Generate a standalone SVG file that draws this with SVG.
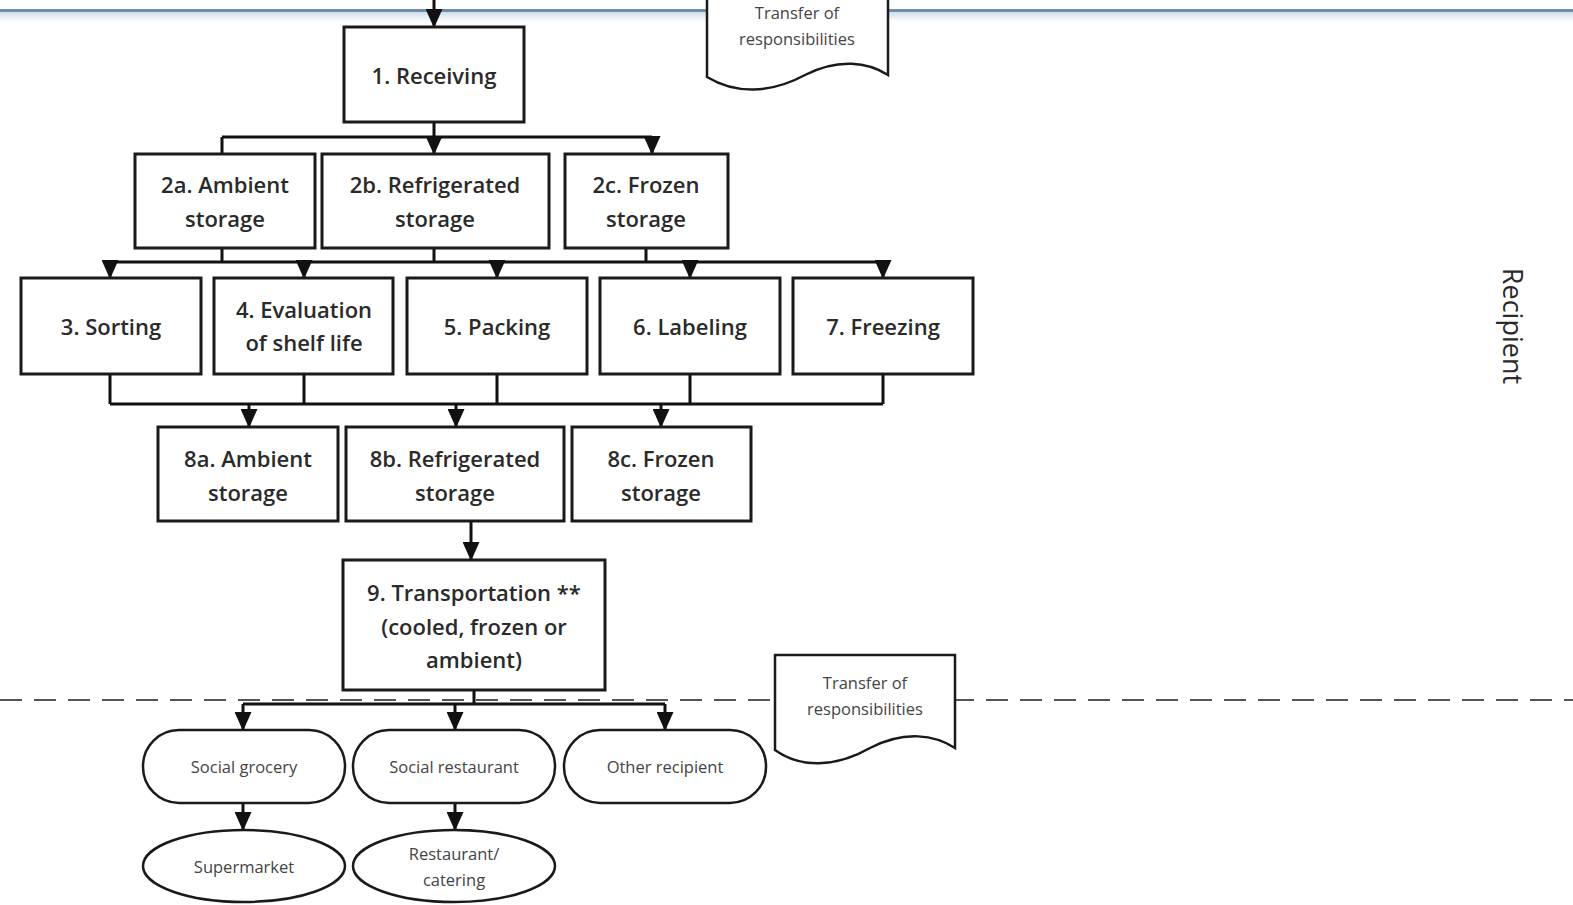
<svg xmlns="http://www.w3.org/2000/svg" width="1573" height="905" viewBox="0 0 1573 905">
<style>
.box{fill:#fff;stroke:#1a1a1a;stroke-width:3}
.term{fill:#fff;stroke:#1a1a1a;stroke-width:2.5}
.doc{fill:#fff;stroke:#1a1a1a;stroke-width:2.5}
.c{fill:none;stroke:#111;stroke-width:3}
.ca{fill:none;stroke:#111;stroke-width:3;marker-end:url(#ah)}
.t{font-family:"Open Sans","Liberation Sans",sans-serif;font-size:22px;font-weight:600;fill:#2a2a2a;text-anchor:middle;dominant-baseline:central}
.s{font-family:"Open Sans","Liberation Sans",sans-serif;font-size:16.5px;fill:#444;text-anchor:middle;dominant-baseline:central}
</style>
<defs>
<marker id="ah" markerUnits="userSpaceOnUse" markerWidth="19" markerHeight="17" viewBox="0 0 19 17" refX="18" refY="8.5" orient="auto">
<path d="M0,0 L19,8.5 L0,17 z" fill="#111"/>
</marker>
<linearGradient id="bar" x1="0" y1="0" x2="0" y2="1">
<stop offset="0" stop-color="#cfdeec"/>
<stop offset="1" stop-color="#ffffff"/>
</linearGradient>
</defs>
<rect width="1573" height="905" fill="#fff"/>
<g id="band">
<rect x="0" y="12" width="1573" height="10" fill="url(#bar)"/>
<rect x="0" y="9" width="1573" height="3" fill="#6f8eab"/>
</g>
<g id="divider">
<line x1="0" y1="700" x2="1573" y2="700" stroke="#555" stroke-width="2" stroke-dasharray="22 12"/>
</g>
<g id="connectors">
<path class="ca" d="M434,0 V27"/>
<path class="c" d="M434,122 V137 M222,137 H652 M222,137 V154"/>
<path class="ca" d="M434,137 V154"/>
<path class="ca" d="M652,137 V154"/>
<path class="c" d="M222,248 V262 M434,248 V262 M646,248 V262 M110,262 H883"/>
<path class="ca" d="M110,262 V278"/>
<path class="ca" d="M304,262 V278"/>
<path class="ca" d="M497,262 V278"/>
<path class="ca" d="M690,262 V278"/>
<path class="ca" d="M883,262 V278"/>
<path class="c" d="M110,374 V404 M304,374 V404 M497,374 V404 M690,374 V404 M883,374 V404 M110,404 H883"/>
<path class="ca" d="M249,404 V427"/>
<path class="ca" d="M456,404 V427"/>
<path class="ca" d="M661,404 V427"/>
<path class="ca" d="M471,521 V560"/>
<path class="c" d="M474,690 V704 M243,704 H665"/>
<path class="ca" d="M243,704 V730"/>
<path class="ca" d="M455,704 V730"/>
<path class="ca" d="M665,704 V730"/>
<path class="ca" d="M243,803 V830"/>
<path class="ca" d="M455,803 V830"/>
</g>
<g id="n1"><rect class="box" x="344" y="27" width="180" height="95"/><text class="t" x="434" y="75">1. Receiving</text></g>
<g id="n2a"><rect class="box" x="135" y="154" width="180" height="94"/><text class="t" x="225" y="184">2a. Ambient</text><text class="t" x="225" y="218">storage</text></g>
<g id="n2b"><rect class="box" x="322" y="154" width="227" height="94"/><text class="t" x="435" y="184">2b. Refrigerated</text><text class="t" x="435" y="218">storage</text></g>
<g id="n2c"><rect class="box" x="565" y="154" width="163" height="94"/><text class="t" x="646" y="184">2c. Frozen</text><text class="t" x="646" y="218">storage</text></g>
<g id="n3"><rect class="box" x="21" y="278" width="180" height="96"/><text class="t" x="111" y="326">3. Sorting</text></g>
<g id="n4"><rect class="box" x="214" y="278" width="179" height="96"/><text class="t" x="304" y="309">4. Evaluation</text><text class="t" x="304" y="342">of shelf life</text></g>
<g id="n5"><rect class="box" x="407" y="278" width="180" height="96"/><text class="t" x="497" y="326">5. Packing</text></g>
<g id="n6"><rect class="box" x="600" y="278" width="180" height="96"/><text class="t" x="690" y="326">6. Labeling</text></g>
<g id="n7"><rect class="box" x="793" y="278" width="180" height="96"/><text class="t" x="883" y="326">7. Freezing</text></g>
<g id="n8a"><rect class="box" x="158" y="427" width="180" height="94"/><text class="t" x="248" y="458">8a. Ambient</text><text class="t" x="248" y="492">storage</text></g>
<g id="n8b"><rect class="box" x="346" y="427" width="218" height="94"/><text class="t" x="455" y="458">8b. Refrigerated</text><text class="t" x="455" y="492">storage</text></g>
<g id="n8c"><rect class="box" x="572" y="427" width="179" height="94"/><text class="t" x="661" y="458">8c. Frozen</text><text class="t" x="661" y="492">storage</text></g>
<g id="n9"><rect class="box" x="343" y="560" width="262" height="130"/><text class="t" x="474" y="592">9. Transportation **</text><text class="t" x="474" y="626">(cooled, frozen or</text><text class="t" x="474" y="659">ambient)</text></g>
<g id="r1"><rect class="term" x="143" y="730" width="202" height="73" rx="36" ry="36"/><text class="s" x="244" y="766">Social grocery</text></g>
<g id="r2"><rect class="term" x="353" y="730" width="202" height="73" rx="36" ry="36"/><text class="s" x="454" y="766">Social restaurant</text></g>
<g id="r3"><rect class="term" x="564" y="730" width="202" height="73" rx="36" ry="36"/><text class="s" x="665" y="766">Other recipient</text></g>
<g id="e1"><ellipse class="term" cx="244" cy="866" rx="101" ry="36"/><text class="s" x="244" y="866">Supermarket</text></g>
<g id="e2"><ellipse class="term" cx="454" cy="866" rx="101" ry="36"/><text class="s" x="454" y="853">Restaurant/</text><text class="s" x="454" y="879">catering</text></g>
<g id="doc2"><path class="doc" d="M775,655 H955 V748 C935,735 905,730 870,748 C835,768 800,768 775,750 Z"/><text class="s" x="865" y="682">Transfer of</text><text class="s" x="865" y="708">responsibilities</text></g>
<g id="doc1"><path class="doc" d="M707,-20 H888 V75 C868,62 838,58 805,75 C770,94 735,94 707,77 Z"/><text class="s" x="797" y="12">Transfer of</text><text class="s" x="797" y="38">responsibilities</text></g>
<g id="lane"><text class="t" x="1513" y="326" style="font-size:27px;font-weight:400" transform="rotate(90 1513 326)">Recipient</text></g>
</svg>
